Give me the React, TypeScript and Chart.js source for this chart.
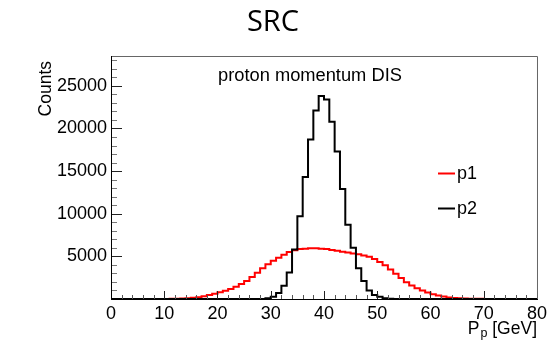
import React, { useEffect, useRef } from "react";
import { Chart, registerables } from "chart.js";

Chart.register(...registerables);

// ---- data ----
const chartTitle = "SRC";
const histTitle = "proton momentum DIS";
const xAxisTitleMain = "P";
const xAxisTitleSub = "p";
const xAxisTitleRest = " [GeV]";
const yAxisTitle = "Counts";
const seriesLabels = ["p1", "p2"];
const xMin = 0;
const xMax = 80;
const binWidth = 1;
const yMax = 28500;
const xTickValues = [0, 10, 20, 30, 40, 50, 60, 70, 80];
const yTickValues = [5000, 10000, 15000, 20000, 25000];
const xMajorStep = 10;
const xMinorStep = 2;
const yMajorStep = 5000;
const yMinorStep = 1000;

// p1 (red) counts per 1 GeV bin, bins 0..79
const p1Counts = [
  0, 0, 0, 0, 0, 0, 0, 0, 0, 0,
  0, 0, 15, 35, 65, 100, 140, 200, 320, 460,
  620, 790, 980, 1180, 1440, 1750, 2120, 2580, 3080, 3620,
  4080, 4480, 4850, 5200, 5500, 5720, 5850, 5900, 5950, 5950,
  5900, 5850, 5750, 5650, 5550, 5450, 5350, 5250, 5100, 4950,
  4700, 4350, 3950, 3450, 2950, 2450, 1950, 1580, 1270, 1000,
  760, 570, 400, 280, 190, 130, 90, 60, 40, 25,
  15, 10, 5, 0, 0, 0, 0, 0, 0, 0,
];

// p2 (black) counts per 1 GeV bin, bins 0..79
const p2Counts = [
  0, 0, 0, 0, 0, 0, 0, 0, 0, 0,
  0, 0, 0, 0, 0, 0, 0, 0, 0, 0,
  0, 0, 0, 0, 0, 0, 0, 0, 0, 0,
  80, 270, 700, 1550, 3100, 5800, 9700, 14300, 18700, 22100,
  23800, 23400, 20800, 17300, 12900, 8700, 6000, 3600, 2100, 1000,
  470, 250, 80, 30, 0, 0, 0, 0, 0, 0,
  0, 0, 0, 0, 0, 0, 0, 0, 0, 0,
  0, 0, 0, 0, 0, 0, 0, 0, 0, 0,
];

const seriesColors = ["#ff0000", "#000000"];
const FONT = "'Liberation Sans', Arial, Helvetica, sans-serif";

function toSteps(counts: number[]) {
  const pts = counts.map((v, i) => ({ x: xMin + i * binWidth, y: v }));
  pts.push({ x: xMin + counts.length * binWidth, y: counts[counts.length - 1] });
  return pts;
}

const rootPlugin = {
  id: "rootStyle",
  afterDatasetsDraw(chart: any) {
    const { ctx, chartArea: a, scales } = chart;
    const xs = scales.x;
    const ys = scales.y;
    ctx.save();
    ctx.lineWidth = 1;
    // y ticks (inward)
    for (let v = 0; v <= yMax; v += yMinorStep) {
      const y = Math.round(ys.getPixelForValue(v)) + 0.5;
      const major = v % yMajorStep === 0;
      ctx.strokeStyle = major ? "#222" : "#777";
      ctx.beginPath();
      ctx.moveTo(a.left, y);
      ctx.lineTo(a.left + (major ? 11 : 6), y);
      ctx.stroke();
    }
    // x ticks (inward)
    for (let v = xMin; v <= xMax; v += xMinorStep) {
      const x = Math.round(xs.getPixelForValue(v)) + 0.5;
      const major = v % xMajorStep === 0;
      ctx.strokeStyle = major ? "#222" : "#555";
      ctx.beginPath();
      ctx.moveTo(x, a.bottom);
      ctx.lineTo(x, a.bottom - (major ? 8 : 4));
      ctx.stroke();
    }
    // frame
    ctx.strokeStyle = "#666";
    ctx.beginPath();
    ctx.moveTo(a.left + 0.5, a.top + 0.5);
    ctx.lineTo(a.right + 0.5, a.top + 0.5);
    ctx.lineTo(a.right + 0.5, a.bottom);
    ctx.stroke();
    ctx.strokeStyle = "#000";
    ctx.beginPath();
    ctx.moveTo(a.left + 0.5, a.top);
    ctx.lineTo(a.left + 0.5, a.bottom + 0.5);
    ctx.lineTo(a.right + 1, a.bottom + 0.5);
    ctx.stroke();
    ctx.restore();
  },
  afterDraw(chart: any) {
    const { ctx, chartArea: a } = chart;
    ctx.save();
    ctx.fillStyle = "#000";
    // main title
    ctx.font = `29px 'Open Sans', 'Noto Sans', sans-serif`;
    ctx.textAlign = "center";
    ctx.textBaseline = "alphabetic";
    ctx.fillText(chartTitle, 273, 31);
    // histogram title
    ctx.font = `18.3px ${FONT}`;
    ctx.textAlign = "left";
    ctx.fillText(histTitle, 218, 81);
    // y axis title
    ctx.save();
    ctx.translate(51, 61);
    ctx.rotate(-Math.PI / 2);
    ctx.font = `17.5px ${FONT}`;
    ctx.textAlign = "right";
    ctx.fillText(yAxisTitle, 0, 0);
    ctx.restore();
    // x axis title (right aligned)
    ctx.textAlign = "left";
    ctx.font = `17.5px ${FONT}`;
    const wMain = ctx.measureText(xAxisTitleMain).width;
    const wRest = ctx.measureText(xAxisTitleRest).width;
    ctx.font = `12.5px ${FONT}`;
    const wSub = ctx.measureText(xAxisTitleSub).width;
    let x = a.right - (wMain + wSub + wRest + 1);
    const by = 333.5;
    ctx.font = `17.5px ${FONT}`;
    ctx.fillText(xAxisTitleMain, x, by);
    x += wMain + 1;
    ctx.font = `12.5px ${FONT}`;
    ctx.fillText(xAxisTitleSub, x, by + 3);
    x += wSub;
    ctx.font = `17.5px ${FONT}`;
    ctx.fillText(xAxisTitleRest, x, by);
    // legend
    const legendY = [173.5, 208.5];
    chart.data.datasets.forEach((ds: any, i: number) => {
      const y = legendY[i];
      ctx.strokeStyle = ds.borderColor;
      ctx.lineWidth = 2;
      ctx.beginPath();
      ctx.moveTo(438, y);
      ctx.lineTo(455, y);
      ctx.stroke();
      ctx.fillStyle = "#000";
      ctx.font = `18px ${FONT}`;
      ctx.textBaseline = "middle";
      ctx.fillText(ds.label, 457, y + 1);
    });
    ctx.restore();
  },
};

export default function App() {
  const ref = useRef<HTMLCanvasElement | null>(null);
  useEffect(() => {
    if (!ref.current) return;
    const chart = new Chart(ref.current, {
      type: "line",
      data: {
        datasets: [
          {
            label: seriesLabels[0],
            data: toSteps(p1Counts),
            borderColor: seriesColors[0],
            backgroundColor: seriesColors[0],
            borderWidth: 2,
            stepped: "after",
            pointRadius: 0,
            fill: false,
            order: 2,
          },
          {
            label: seriesLabels[1],
            data: toSteps(p2Counts),
            borderColor: seriesColors[1],
            backgroundColor: seriesColors[1],
            borderWidth: 2,
            stepped: "after",
            pointRadius: 0,
            fill: false,
            order: 1,
          },
        ],
      },
      options: {
        animation: false,
        responsive: false,
        layout: { padding: { top: 56, right: 13, left: 0, bottom: 0 } },
        plugins: {
          legend: { display: false },
          tooltip: { enabled: false },
          title: { display: false },
        },
        scales: {
          x: {
            type: "linear",
            min: xMin,
            max: xMax,
            grid: { display: false, drawTicks: false, tickLength: 0 },
            border: { display: false },
            afterBuildTicks: (s: any) => {
              s.ticks = xTickValues.map((v) => ({ value: v }));
            },
            ticks: {
              padding: 4,
              color: "#000",
              maxRotation: 0,
              autoSkip: false,
              font: { family: FONT, size: 18 },
            },
            afterFit: (s: any) => {
              s.height = 55;
            },
          },
          y: {
            type: "linear",
            min: 0,
            max: yMax,
            grid: { display: false, drawTicks: false, tickLength: 0 },
            border: { display: false },
            afterBuildTicks: (s: any) => {
              s.ticks = yTickValues.map((v) => ({ value: v }));
            },
            ticks: {
              padding: 4,
              color: "#000",
              autoSkip: false,
              font: { family: FONT, size: 18 },
              callback: (v: any) => String(v),
            },
            afterFit: (s: any) => {
              s.width = 111;
            },
          },
        },
      },
      plugins: [rootPlugin],
    });
    return () => chart.destroy();
  }, []);
  return (
    <div style={{ position: "fixed", left: 0, top: 0, width: 551, height: 354, background: "#fff" }}>
      <canvas ref={ref} width={551} height={354} style={{ display: "block" }} />
    </div>
  );
}
